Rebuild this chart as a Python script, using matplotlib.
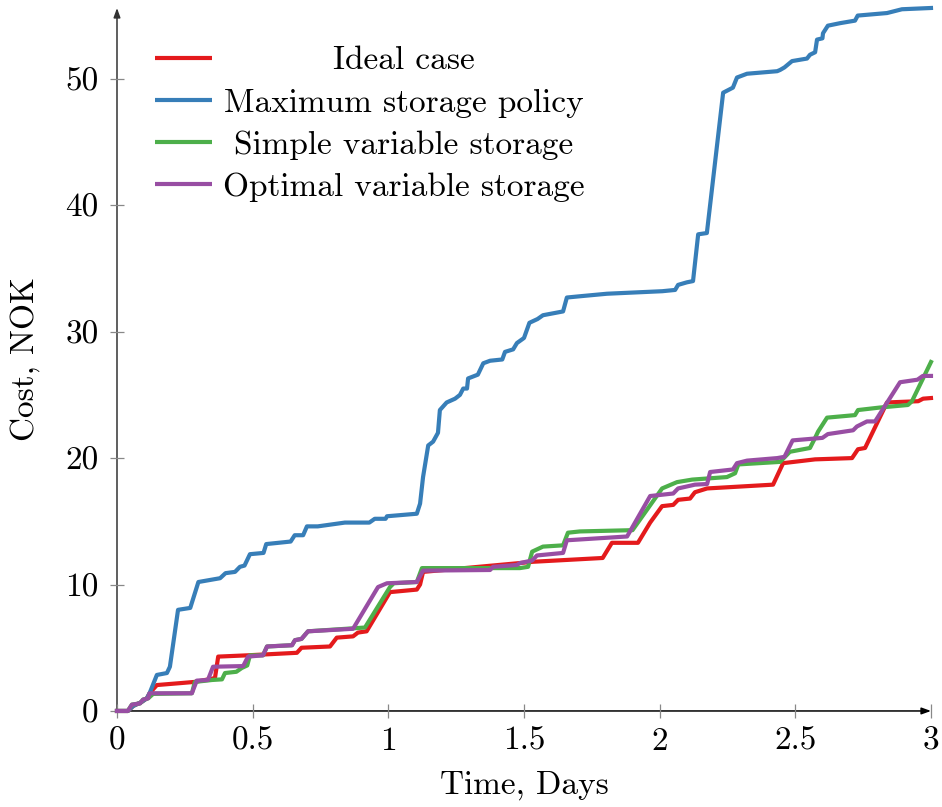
import matplotlib
matplotlib.use("Agg")
import matplotlib.pyplot as plt
from matplotlib.ticker import FixedLocator, FuncFormatter

plt.rcParams['font.family'] = ['cmr10', 'DejaVu Serif']
plt.rcParams['axes.formatter.use_mathtext'] = True

# cost over time
ideal_x = [0, 0.04, 0.06, 0.09, 0.11, 0.12, 0.147, 0.232, 0.287, 0.361,
           0.373, 0.48, 0.663, 0.68, 0.785, 0.81, 0.87, 0.888, 0.92, 1.006,
           1.105, 1.117, 1.128, 1.485, 1.533, 1.79, 1.824, 1.92, 1.965, 2.009,
           2.05, 2.068, 2.112, 2.13, 2.175, 2.418, 2.455, 2.573, 2.709, 2.731,
           2.757, 2.838, 2.953, 2.971, 3.0]
ideal_y = [0, 0, 0.4, 0.7, 1.0, 1.4, 2.05, 2.2, 2.3, 2.6,
           4.3, 4.4, 4.6, 5.0, 5.1, 5.8, 5.9, 6.2, 6.3, 9.4,
           9.6, 10.0, 11.0, 11.7, 11.8, 12.1, 13.3, 13.3, 14.9, 16.2,
           16.3, 16.7, 16.8, 17.3, 17.6, 17.9, 19.6, 19.9, 20.0, 20.7,
           20.8, 24.4, 24.5, 24.7, 24.75]

maxst_x = [0, 0.04, 0.06, 0.09, 0.11, 0.12, 0.147, 0.184, 0.195, 0.225,
           0.27, 0.30, 0.38, 0.40, 0.435, 0.453, 0.47, 0.49, 0.54, 0.55,
           0.64, 0.655, 0.686, 0.70, 0.74, 0.84, 0.93, 0.95, 0.99, 0.995,
           1.105, 1.117, 1.128, 1.147, 1.165, 1.183, 1.19, 1.215, 1.246, 1.264,
           1.276, 1.29, 1.294, 1.33, 1.35, 1.375, 1.42, 1.43, 1.46, 1.474,
           1.50, 1.52, 1.55, 1.57, 1.644, 1.658, 1.706, 1.806, 2.01, 2.057,
           2.068, 2.10, 2.123, 2.142, 2.174, 2.234, 2.27, 2.285, 2.322, 2.433,
           2.444, 2.46, 2.488, 2.543, 2.554, 2.573, 2.58, 2.60, 2.602, 2.62,
           2.665, 2.72, 2.73, 2.838, 2.893, 3.0]
maxst_y = [0, 0, 0.4, 0.7, 1.0, 1.4, 2.85, 3.0, 3.5, 8.0,
           8.15, 10.2, 10.5, 10.9, 11.0, 11.4, 11.5, 12.4, 12.5, 13.2,
           13.4, 13.9, 13.9, 14.6, 14.6, 14.9, 14.9, 15.2, 15.2, 15.4,
           15.6, 16.4, 18.5, 21.0, 21.3, 22.0, 23.8, 24.4, 24.7, 25.0,
           25.5, 25.5, 26.3, 26.6, 27.5, 27.7, 27.8, 28.4, 28.6, 29.1,
           29.5, 30.7, 31.0, 31.3, 31.6, 32.7, 32.8, 33.0, 33.2, 33.3,
           33.7, 33.9, 34.0, 37.7, 37.8, 48.9, 49.3, 50.1, 50.4, 50.6,
           50.7, 50.9, 51.4, 51.6, 51.9, 52.1, 53.1, 53.2, 53.6, 54.2,
           54.4, 54.6, 55.0, 55.2, 55.5, 55.6]

simple_x = [0, 0.04, 0.055, 0.085, 0.096, 0.115, 0.133, 0.276, 0.287, 0.33,
            0.35, 0.387, 0.398, 0.44, 0.46, 0.48, 0.49, 0.538, 0.553, 0.645,
            0.656, 0.68, 0.704, 0.914, 1.006, 1.02, 1.105, 1.124, 1.485, 1.515,
            1.53, 1.57, 1.644, 1.662, 1.706, 1.90, 2.009, 2.064, 2.12, 2.248,
            2.278, 2.29, 2.444, 2.48, 2.554, 2.573, 2.584, 2.617, 2.72, 2.731,
            2.812, 2.915, 2.93, 3.0]
simple_y = [0, 0, 0.5, 0.6, 0.9, 1.0, 1.35, 1.4, 2.3, 2.4,
            2.45, 2.5, 3.0, 3.1, 3.4, 3.6, 4.4, 4.4, 5.1, 5.2,
            5.6, 5.7, 6.3, 6.6, 9.8, 10.1, 10.2, 11.3, 11.3, 11.4,
            12.6, 13.0, 13.1, 14.1, 14.2, 14.3, 17.6, 18.1, 18.3, 18.5,
            18.8, 19.5, 19.7, 20.5, 20.8, 21.6, 22.1, 23.2, 23.4, 23.8,
            24.0, 24.2, 24.5, 27.6]

optimal_x = [0, 0.04, 0.055, 0.085, 0.096, 0.115, 0.12, 0.276, 0.294, 0.335,
             0.354, 0.465, 0.483, 0.538, 0.553, 0.645, 0.656, 0.68, 0.704, 0.87,
             0.962, 0.995, 1.105, 1.128, 1.375, 1.386, 1.474, 1.485, 1.53, 1.548,
             1.644, 1.658, 1.88, 1.965, 2.05, 2.068, 2.13, 2.175, 2.186, 2.27,
             2.285, 2.322, 2.433, 2.46, 2.49, 2.60, 2.62, 2.713, 2.727, 2.764,
             2.794, 2.886, 2.95, 2.97, 3.0]
optimal_y = [0, 0, 0.5, 0.6, 0.9, 1.0, 1.4, 1.4, 2.4, 2.45,
             3.5, 3.55, 4.3, 4.4, 5.1, 5.2, 5.6, 5.7, 6.3, 6.5,
             9.8, 10.1, 10.2, 11.1, 11.15, 11.4, 11.55, 11.7, 11.9, 12.3,
             12.5, 13.5, 13.8, 17.0, 17.2, 17.6, 17.9, 17.95, 18.9, 19.1,
             19.6, 19.8, 20.0, 20.1, 21.4, 21.6, 21.9, 22.2, 22.5, 22.9,
             22.9, 26.0, 26.2, 26.5, 26.5]

labels = ["Ideal case", "Maximum storage policy",
          "Simple variable storage", "Optimal variable storage"]
colors = ["#e41a1c", "#377eb8", "#4daf4a", "#984ea3"]
xticks = [0, 0.5, 1, 1.5, 2, 2.5, 3]
yticks = [0, 10, 20, 30, 40, 50]

fig = plt.figure(figsize=(9.42, 8.07), dpi=100)
ax = fig.add_axes([0.1242, 0.119, 0.8641, 0.8711])

series = [(ideal_x, ideal_y), (maxst_x, maxst_y),
          (simple_x, simple_y), (optimal_x, optimal_y)]
for (xs, ys), c in zip(series, colors):
    ax.plot(xs, ys, color=c, lw=3.0, solid_joinstyle='round', clip_on=False)

ax.set_xlim(0, 3)
ax.set_ylim(0, 55.6)

# axis lines in the middle, with arrows
for s in ax.spines.values():
    s.set_visible(False)
ax.annotate('', xy=(3, 0), xytext=(0, 0), xycoords='data',
            arrowprops=dict(arrowstyle='-|>,head_length=0.55,head_width=0.2',
                            color='black', lw=1.1, shrinkA=0, shrinkB=0),
            annotation_clip=False, zorder=1)
ax.annotate('', xy=(0, 55.6), xytext=(0, 0), xycoords='data',
            arrowprops=dict(arrowstyle='-|>,head_length=0.55,head_width=0.2',
                            color='#333333', lw=1.1, shrinkA=0, shrinkB=0),
            annotation_clip=False, zorder=1)

ax.xaxis.set_major_locator(FixedLocator(xticks))
ax.yaxis.set_major_locator(FixedLocator(yticks))
ax.xaxis.set_major_formatter(FuncFormatter(lambda v, p: "%g" % v))
ax.yaxis.set_major_formatter(FuncFormatter(lambda v, p: "%g" % v))
ax.tick_params(direction='inout', length=10.5, width=0.9, color='#888888',
               labelsize=24, pad=6)
ax.tick_params(axis='y', pad=8)

ax.set_xlabel("Time, Days", fontsize=24, labelpad=11)
ax.set_ylabel("Cost, NOK", fontsize=24, labelpad=18)

# legend drawn by hand: short line, centred text
rows = [0.9289, 0.8691, 0.8094, 0.7496]
for lab, c, yr in zip(labels, colors, rows):
    ax.plot([0.0467, 0.1167], [yr, yr], color=c, lw=3.0,
            transform=ax.transAxes, solid_capstyle='butt')
    ax.text(0.3526, yr, lab, transform=ax.transAxes, fontsize=24,
            ha='center', va='center_baseline')

fig.savefig("out.png", dpi=100)
